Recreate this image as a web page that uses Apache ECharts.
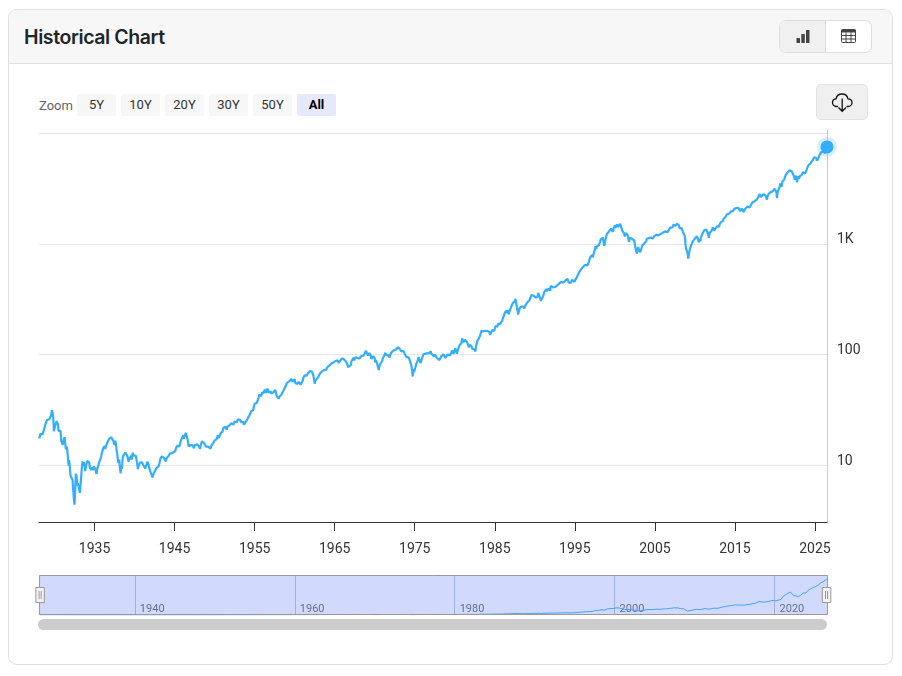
<!DOCTYPE html>
<html>
<head>
<meta charset="utf-8">
<script src="https://cdn.jsdelivr.net/npm/echarts@6/dist/echarts.min.js"></script>
<style>
html,body{margin:0;padding:0;width:902px;height:676px;background:#fff;overflow:hidden;font-family:Roboto,sans-serif}
.abs{position:absolute;box-sizing:border-box}
#card{left:8px;top:9px;width:885px;height:656px;border:1px solid #e0e0e0;border-radius:9px;overflow:hidden}
#head{left:0;top:0;width:883px;height:54px;background:#f7f7f7;border-bottom:1px solid #e1e1e1}
#title{left:24px;top:25px;font:600 19.5px/24px Inter,sans-serif;color:#212529;letter-spacing:-.4px}
#zoomLabel{left:39px;top:98px;font:13px/15px Roboto,sans-serif;color:#666}
.zb{top:94px;width:39px;height:22px;background:#f7f7f7;border-radius:2px;font:13px/22px Roboto,sans-serif;color:#333;text-align:center}
.zb.on{background:#e6e9fc;color:#000;font-weight:700}
#toggle{left:779px;top:20px;width:93px;height:33px;border:1px solid #ddd;border-radius:7px;background:#fff;overflow:hidden}
#toggleL{left:0;top:0;width:46px;height:31px;background:#f0f0f0;border-right:1px solid #ddd}
#dl{left:816px;top:84px;width:52px;height:36px;background:#f0f0f0;border:1px solid #e2e2e2;border-radius:5px}
#chart{left:0;top:0;width:902px;height:676px}
#scroll{left:38px;top:619px;width:789px;height:11px;background:#ccc;border-radius:6px}
#axisTop{left:827px;top:129px;width:1px;height:4px;background:#ccc}
</style>
</head>
<body>
<div class="abs" id="card"><div class="abs" id="head"></div></div>
<div class="abs" id="title">Historical Chart</div>
<div class="abs" id="toggle">
  <div class="abs" id="toggleL">
    <svg class="abs" style="left:16px;top:8px" width="14" height="14" viewBox="0 0 14 14"><rect x="0.5" y="9" width="3.5" height="5" rx=".6" fill="#444"/><rect x="5.3" y="5" width="3.5" height="9" rx=".6" fill="#444"/><rect x="10" y="1" width="3.5" height="13" rx=".6" fill="#444"/></svg>
  </div>
  <svg class="abs" style="left:61px;top:8px" width="16" height="15" viewBox="0 0 16 15"><rect x=".5" y=".5" width="14" height="13" rx="1" fill="#fff" stroke="#444"/><rect x=".5" y=".5" width="14" height="3" fill="#444"/><path d="M.5 6.5H14.5M.5 10H14.5M5 3.5V13.5M10 3.5V13.5" stroke="#444" fill="none"/></svg>
</div>
<div class="abs" id="zoomLabel">Zoom</div>
<div class="abs zb" style="left:77px">5Y</div>
<div class="abs zb" style="left:121px">10Y</div>
<div class="abs zb" style="left:165px">20Y</div>
<div class="abs zb" style="left:209px">30Y</div>
<div class="abs zb" style="left:253px">50Y</div>
<div class="abs zb on" style="left:297px">All</div>
<div class="abs" id="dl">
  <svg class="abs" style="left:14px;top:6px" width="23" height="23" viewBox="0 0 23 23"><path d="M7 15.5H5.5C3 15.5 1.5 13.7 1.5 11.6C1.5 9.6 3 8 5 7.9C5.6 5 8 3 11 3C14 3 16.4 5 17 7.9C19.2 8 21 9.6 21 11.7C21 13.8 19.2 15.5 17 15.5H15.5" fill="none" stroke="#111" stroke-width="1.3"/><path d="M11.2 7.5V20M7.5 16.5L11.2 20.3L15 16.5" fill="none" stroke="#111" stroke-width="1.3"/></svg>
</div>
<div class="abs" id="axisTop"></div>
<div class="abs" id="chart"></div>
<div class="abs" id="scroll"></div>
<script>
var firstYear = 1928;
var tickYears = [1935,1945,1955,1965,1975,1985,1995,2005,2015,2025];
var navigatorYears = [1940,1960,1980,2000,2020];
var gridValues = [10,100,1000,10000];
var labelValues = [10,100,1000];
var monthlyValues = [
17.57,17.26,19.28,19.75,20.0,19.05,19.43,20.87,21.17,21.68,24.15,24.35,
25.86,26.0,25.93,26.0,25.0,26.6,28.5,31.6,30.0,27.5,20.43,21.45,
22.8,23.0,25.1,25.9,23.7,20.5,21.0,20.8,20.5,16.9,16.0,15.34,
15.98,17.2,18.0,15.9,14.0,14.8,14.0,13.9,10.0,11.1,11.0,8.12,
8.3,8.3,7.4,6.0,5.0,4.43,6.1,8.4,8.0,6.6,6.9,6.89,
7.1,5.66,5.85,7.9,9.64,10.9,9.9,10.7,9.8,8.9,9.8,10.1,
11.0,10.7,10.7,10.6,9.5,9.9,9.1,9.6,9.1,9.3,9.8,9.5,
9.3,9.1,8.4,9.3,9.7,10.1,10.7,11.0,11.5,12.1,13.0,13.4,
14.3,14.5,15.0,14.1,14.8,15.0,16.0,16.2,16.4,17.4,17.6,17.2,
18.0,18.1,18.1,16.7,16.3,15.3,16.7,15.7,13.8,12.7,11.2,10.5,
11.3,11.7,8.5,10.0,9.3,11.5,12.2,12.0,12.0,13.1,12.8,13.2,
12.2,12.6,10.8,11.1,12.0,11.3,12.3,11.3,13.0,12.9,12.3,12.5,
12.0,12.2,12.3,12.2,9.3,9.9,10.3,10.6,10.7,11.0,10.7,10.6,
10.1,9.9,10.0,9.4,9.7,10.3,10.8,10.4,10.2,9.5,9.3,8.7,
8.9,8.6,7.8,8.0,8.6,8.8,9.0,9.1,9.5,9.9,9.5,9.8,
10.3,11.0,11.6,11.7,12.1,12.4,11.8,11.7,11.8,11.6,10.9,11.7,
11.9,11.8,12.2,11.9,12.8,13.3,13.0,13.0,13.0,13.0,13.3,13.3,
13.5,14.3,13.9,15.1,15.4,15.1,14.8,15.6,16.4,16.9,17.7,17.4,
18.7,17.4,18.7,19.3,19.6,18.4,18.1,16.7,14.9,14.8,14.8,15.3,
15.7,15.4,15.2,14.6,14.3,15.3,15.8,15.1,15.1,15.5,15.0,15.3,
14.7,14.1,15.1,15.5,16.5,16.7,16.2,16.0,15.5,16.5,14.8,15.2,
15.3,14.8,15.1,14.7,14.7,14.2,15.0,15.2,15.4,16.0,16.3,16.8,
17.0,17.2,17.3,18.0,18.8,17.7,17.8,18.4,19.5,19.5,19.5,20.4,
21.7,22.0,21.4,22.4,21.5,20.96,22.4,23.3,23.3,22.9,23.0,23.8,
24.1,23.3,24.4,23.3,23.9,24.96,25.4,25.0,24.5,24.5,26.0,26.6,
26.4,25.9,25.3,24.6,24.5,24.1,24.8,23.3,23.4,24.5,24.8,24.8,
26.1,26.2,26.9,28.3,29.2,29.2,30.9,29.8,32.0,31.7,34.2,35.98,
36.6,36.8,36.6,37.96,38.0,41.0,43.5,43.2,43.7,42.3,45.5,45.5,
43.8,45.3,48.5,48.4,45.2,47.0,49.4,47.5,45.4,45.6,45.1,46.7,
44.7,43.3,44.1,45.7,47.4,47.4,47.9,45.2,42.4,41.0,41.7,39.99,
41.7,40.8,42.1,43.4,44.1,45.2,47.2,48.0,50.1,51.3,52.5,55.2,
55.4,55.4,55.4,57.6,58.7,58.5,60.5,59.6,56.9,57.5,58.3,59.9,
55.6,56.1,55.3,54.4,55.8,56.9,55.5,58.1,53.5,53.4,55.5,58.1,
61.8,63.4,65.1,65.3,66.6,64.6,66.8,68.1,66.7,68.6,71.3,71.6,
68.8,69.96,69.6,65.2,59.6,54.75,58.2,59.1,56.3,56.5,62.3,63.1,
66.2,64.3,66.6,70.0,70.8,69.4,69.1,72.5,71.7,74.0,73.2,75.0,
77.0,77.8,78.98,79.5,80.4,81.7,83.2,81.8,84.2,85.0,84.4,84.8,
87.6,87.4,86.2,89.1,88.4,84.1,85.3,87.2,89.96,92.4,91.6,92.4,
92.9,91.2,89.2,91.1,86.1,84.7,83.6,77.1,76.6,80.2,80.5,80.3,
86.6,87.4,90.2,94.0,89.1,90.6,94.8,93.6,96.7,93.3,94.0,96.5,
92.2,89.4,90.2,97.6,98.7,99.6,97.7,98.9,102.7,103.4,108.4,103.9,
103.0,98.1,101.5,103.7,103.5,97.7,91.8,95.5,93.1,97.1,93.8,92.1,
85.0,89.5,89.6,81.5,76.6,72.7,78.1,81.5,84.2,83.3,87.2,92.2,
95.9,97.0,100.3,104.0,99.6,99.7,95.6,99.0,98.3,94.2,93.99,102.1,
103.9,106.6,107.2,107.7,109.5,107.1,107.4,111.1,110.6,111.6,116.7,118.05,
116.0,111.7,111.5,106.97,104.95,104.3,108.2,104.3,108.4,108.3,95.96,97.55,
96.6,96.2,93.98,90.3,87.3,86.0,79.3,72.2,63.5,73.9,69.97,68.6,
76.98,81.6,83.4,87.3,91.2,95.2,88.8,86.9,83.9,89.0,91.2,90.2,
100.9,99.7,102.8,101.6,100.2,104.3,103.4,102.9,105.2,102.9,102.1,107.5,
102.0,99.8,98.4,98.4,96.1,100.5,98.9,96.8,96.5,92.3,94.8,95.1,
89.3,87.0,89.2,97.0,97.2,95.5,100.7,103.3,102.5,93.2,94.7,96.1,
99.9,96.3,101.6,101.8,99.1,102.9,103.8,109.3,109.3,101.8,106.2,107.9,
114.2,113.7,102.1,106.3,111.2,114.2,121.7,122.4,125.5,127.5,140.5,135.8,
129.6,131.3,136.0,132.8,132.6,131.2,130.9,122.8,116.2,121.9,126.4,122.6,
120.4,113.1,111.96,116.4,111.9,109.6,107.1,119.5,120.4,133.7,138.5,140.6,
145.3,148.1,152.96,164.4,162.4,168.1,162.6,164.4,166.1,163.6,166.4,164.9,
163.4,157.1,159.2,160.05,150.6,153.2,150.7,166.7,166.1,166.1,163.6,167.2,
179.6,181.2,180.7,179.8,189.6,191.9,190.9,188.6,182.1,189.8,202.2,211.3,
211.8,226.9,238.9,235.5,247.4,250.8,236.1,252.9,231.3,243.98,249.2,242.2,
274.1,284.2,291.7,288.4,290.1,304.0,318.7,329.8,321.8,251.8,230.3,247.1,
257.1,267.8,258.9,261.3,262.2,273.5,272.0,261.5,271.9,278.97,273.7,277.7,
297.5,288.9,294.9,309.6,320.5,317.98,346.0,351.5,349.2,340.4,345.99,353.4,
329.1,331.9,339.9,330.8,361.2,358.0,356.2,322.6,306.05,304.0,322.2,330.2,
343.9,367.1,375.2,375.3,389.8,371.2,387.8,395.4,387.9,392.5,375.2,417.1,
408.8,412.7,403.7,414.95,415.35,408.1,424.2,414.0,417.8,418.7,431.4,435.7,
438.8,443.4,451.7,440.2,450.2,450.5,448.1,463.6,458.9,467.8,461.8,466.5,
481.6,467.1,445.8,450.9,456.5,444.3,458.3,475.5,462.7,472.4,453.7,459.3,
470.4,487.4,500.7,514.7,533.4,544.75,562.1,561.9,584.4,581.5,605.4,615.9,
636.0,640.4,645.5,654.2,669.1,670.6,639.95,651.99,687.3,705.3,757.0,740.7,
786.2,790.8,757.1,801.3,848.3,885.1,954.3,899.5,947.3,914.6,955.4,970.4,
980.3,1049.3,1101.8,1111.8,1090.8,1133.8,1120.7,957.3,1017.0,1098.7,1163.6,1229.2,
1279.6,1238.3,1286.4,1335.2,1301.8,1372.7,1328.7,1320.4,1282.7,1362.9,1388.9,1469.3,
1394.5,1366.4,1498.6,1452.4,1420.6,1454.6,1430.8,1517.7,1436.5,1429.4,1314.95,1320.3,
1366.0,1239.9,1160.3,1249.5,1255.8,1224.4,1211.2,1133.6,1040.9,1059.8,1139.5,1148.1,
1130.2,1106.7,1147.4,1076.9,1067.1,989.8,911.6,916.1,815.3,885.8,936.3,879.8,
855.7,841.2,848.2,916.9,963.6,974.5,990.3,1008.0,996.0,1050.7,1058.2,1111.9,
1131.1,1144.9,1126.2,1107.3,1120.7,1140.8,1101.7,1104.2,1114.6,1130.2,1173.8,1211.9,
1181.3,1203.6,1180.6,1156.9,1191.5,1191.3,1234.2,1220.3,1228.8,1207.0,1249.5,1248.3,
1280.1,1280.7,1294.9,1310.6,1270.1,1270.2,1276.7,1303.8,1335.9,1377.9,1400.6,1418.3,
1438.2,1406.8,1420.9,1482.4,1530.6,1503.4,1455.3,1473.99,1526.8,1549.4,1481.1,1468.4,
1378.6,1330.6,1322.7,1385.6,1400.4,1280.0,1267.4,1282.8,1166.4,968.8,896.2,903.3,
825.9,735.1,797.9,872.8,919.1,919.3,987.5,1020.6,1057.1,1036.2,1095.6,1115.1,
1073.9,1104.5,1169.4,1186.7,1089.4,1030.7,1101.6,1049.3,1141.2,1183.3,1180.6,1257.6,
1286.1,1327.2,1325.8,1363.6,1345.2,1320.6,1292.3,1218.9,1131.4,1253.3,1246.96,1257.6,
1312.4,1365.7,1408.5,1397.9,1310.3,1362.2,1379.3,1406.6,1440.7,1412.2,1416.2,1426.2,
1498.1,1514.7,1569.2,1597.6,1630.7,1606.3,1685.7,1632.97,1681.6,1756.5,1805.8,1848.4,
1782.6,1859.5,1872.3,1883.95,1923.6,1960.2,1930.7,2003.4,1972.3,2018.1,2067.6,2058.9,
1994.99,2104.5,2067.9,2085.5,2107.4,2063.1,2103.8,1972.2,1920.0,2079.4,2080.4,2043.9,
1940.2,1932.2,2059.7,2065.3,2096.95,2098.9,2173.6,2170.95,2168.3,2126.2,2198.8,2238.8,
2278.9,2363.6,2362.7,2384.2,2411.8,2423.4,2470.3,2471.7,2519.4,2575.3,2647.6,2673.6,
2823.8,2713.8,2640.9,2648.1,2705.3,2718.4,2816.3,2901.5,2913.98,2711.7,2760.2,2506.9,
2704.1,2784.5,2834.4,2945.8,2752.1,2941.8,2980.4,2926.5,2976.7,3037.6,3140.98,3230.8,
3225.5,2954.2,2584.6,2912.4,3044.3,3100.3,3271.1,3500.3,3363.0,3269.96,3621.6,3756.1,
3714.2,3811.2,3972.9,4181.2,4204.1,4297.5,4395.3,4522.7,4307.5,4605.4,4567.0,4766.2,
4515.6,4373.9,4530.4,4131.9,4132.2,3785.4,4130.3,3955.0,3585.6,3871.98,4080.1,3839.5,
4076.6,3970.2,4109.3,4169.5,4179.8,4450.4,4588.96,4507.7,4288.1,4193.8,4567.8,4769.8,
4845.7,5096.3,5254.4,5035.7,5277.5,5460.5,5522.3,5648.4,5762.5,5705.5,6032.4,5881.6,
6040.5,5954.5,5611.9,5569.1,5911.7,6204.95,6339.4,6460.3,6688.5,6840.2,6849.1,6845.5,
6939,6879,6580,7000,7280,7490
];
var points = monthlyValues.map(function(v,i){ return [firstYear+(i+1)/12, v]; });
var lastPoint = points[points.length-1];
var lineColor = '#33aeff';
var X0 = 1928.06, X1 = 2026.5;
var chart = echarts.init(document.getElementById('chart'));
chart.setOption({
  animation:false,
  textStyle:{fontFamily:'Roboto'},
  grid:[
    {left:39,right:75,top:133,height:389},
    {left:38.5,right:75.5,top:575,height:40}
  ],
  xAxis:[
    {type:'value',gridIndex:0,min:X0,max:X1,splitLine:{show:false},
     axisLine:{show:true,lineStyle:{color:'#333',width:1}},
     axisTick:{show:true,length:9,lineStyle:{color:'#333'},customValues:tickYears},
     axisLabel:{show:true,customValues:tickYears,color:'#333',fontSize:14,margin:20,formatter:function(v){return String(v);}}},
    {type:'value',gridIndex:1,min:1927.95,max:X1,
     axisLine:{show:false},
     axisTick:{show:false,customValues:navigatorYears},
     splitLine:{show:true,lineStyle:{color:'#b8c0dc',width:1}},
     axisLabel:{show:true,inside:true,customValues:navigatorYears,color:'#666',fontSize:11,align:'left',verticalAlign:'bottom',margin:0,padding:[0,0,0,5],formatter:function(v){return String(v);}}}
  ],
  yAxis:[
    {type:'log',logBase:10,gridIndex:0,position:'right',min:3.09,max:10000,
     axisLine:{show:true,lineStyle:{color:'#ccc',width:1}},
     axisTick:{show:false,customValues:gridValues},
     splitLine:{show:true,lineStyle:{color:'#e6e6e6',width:1}},
     axisLabel:{show:true,customValues:labelValues,color:'#333',fontSize:14,margin:10,verticalAlign:'bottom',lineHeight:14,padding:[0,0,-3,0],
       formatter:function(v){return v>=1000?(v/1000)+'K':String(v);}}},
    {type:'value',gridIndex:1,min:0,max:8322,show:false,splitLine:{show:false}}
  ],
  dataZoom:[{type:'slider',xAxisIndex:[0],filterMode:'none',start:0,end:100,left:38,right:75.5,top:575,height:40,
    backgroundColor:'transparent',borderColor:'#999',borderRadius:0,fillerColor:'rgba(102,133,247,0.3)',
    showDetail:false,showDataShadow:false,brushSelect:false,moveHandleSize:0,zoomLock:true,
    handleIcon:'path://M0,0H8.5V15H0Z M3.2,3.5V11.5 M5.3,3.5V11.5',handleSize:15,
    handleStyle:{color:'#f2f2f2',borderColor:'#999',borderWidth:1}}],
  series:[
    {name:'main',type:'line',xAxisIndex:0,yAxisIndex:0,data:points,showSymbol:false,symbol:'none',
     lineStyle:{color:lineColor,width:2.2},clip:false,silent:true,z:3},
    {name:'halo',type:'scatter',xAxisIndex:0,yAxisIndex:0,data:[lastPoint],symbolSize:20,
     itemStyle:{color:'rgba(51,174,255,0.25)'},clip:false,silent:true,z:4},
    {name:'last',type:'scatter',xAxisIndex:0,yAxisIndex:0,data:[lastPoint],symbolSize:13,
     itemStyle:{color:lineColor,opacity:1},clip:false,silent:true,z:5},
    {name:'navigator',type:'line',xAxisIndex:1,yAxisIndex:1,data:points,showSymbol:false,symbol:'none',
     lineStyle:{color:lineColor,width:1},silent:true,z:2}
  ]
});
</script>
</body>
</html>
